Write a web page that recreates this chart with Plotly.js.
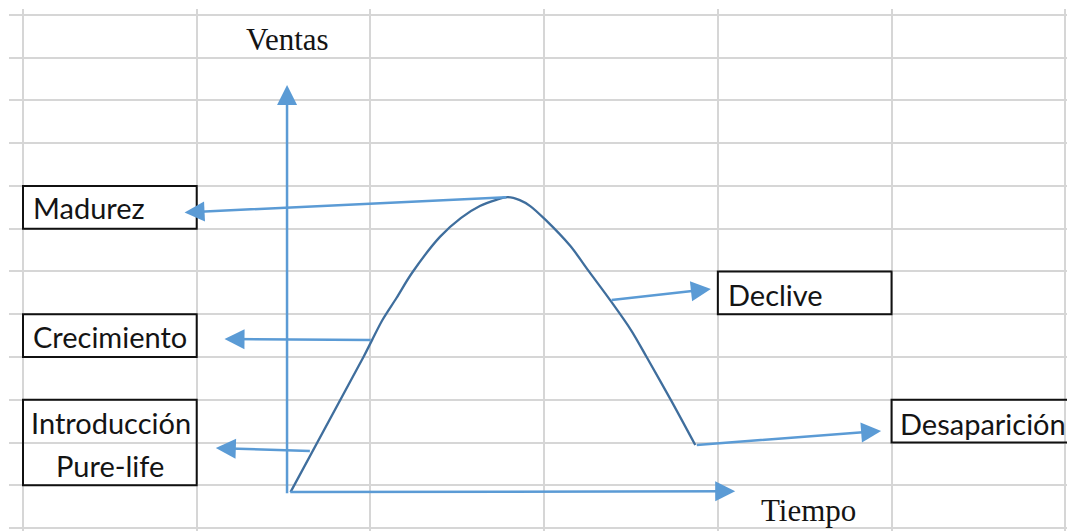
<!DOCTYPE html>
<html>
<head>
<meta charset="utf-8">
<script src="https://cdn.plot.ly/plotly-3.0.1.min.js"></script>
<style>
  html, body { margin: 0; padding: 0; background: #ffffff; }
  #chart { width: 1067px; height: 531px; }
</style>
</head>
<body>
<div id="chart"></div>
<script>
// Product life cycle curve (x = time, y = sales), in sheet-cell units
const tiempo = [1.54, 1.96, 2.01, 2.07, 2.15, 2.24, 2.40, 2.52, 2.63, 2.72, 2.79,
                2.86, 2.92, 3.01, 3.15, 3.26, 3.38, 3.50, 3.59, 3.73, 3.87];
const ventas = [0.84, 4.00, 4.40, 4.87, 5.38, 5.97, 6.81, 7.25, 7.53, 7.67, 7.74,
                7.67, 7.53, 7.20, 6.60, 5.99, 5.33, 4.63, 4.00, 2.99, 1.94];

// Stage labels and the curve point each stage arrow starts from
const etapas = ['Madurez', 'Crecimiento', 'Introducción', 'Declive', 'Desaparición'];
const subtitulo = 'Pure-life';
const origenFlecha = [10, 2, 0, 16, 20];
const ejeY = 'Ventas';
const ejeX = 'Tiempo';

const azulCurva = '#3f6e9d';
const azulFlecha = '#5b9bd5';
const labelFont = { family: 'Lato, "Open Sans", sans-serif', size: 29, color: '#141414' };
const serifFont = { family: '"Liberation Serif", "DejaVu Serif", serif', size: 31, color: '#141414' };

const curve = {
  x: tiempo, y: ventas, type: 'scatter', mode: 'lines',
  line: { color: azulCurva, width: 2.3, shape: 'spline', smoothing: 0.9 },
  hoverinfo: 'skip', showlegend: false
};

function arrow(tailX, tailY, headX, headY) {
  return {
    x: headX, y: headY, ax: tailX, ay: tailY,
    xref: 'x', yref: 'y', axref: 'x', ayref: 'y',
    text: '', showarrow: true, arrowhead: 2, arrowsize: 1.6,
    arrowwidth: 2.5, arrowcolor: azulFlecha, standoff: 0, startstandoff: 0
  };
}

// Heads of the stage arrows, next to each label box
const heads = [[0.93, 7.38], [1.16, 4.42], [1.11, 1.87], [3.96, 5.59], [4.94, 2.27]];
// Introduction arrow starts a little way up the rising edge
const introTail = [1.66, 1.80];

const annotations = [];
// Axis arrows
annotations.push(arrow(1.52, 0.78, 1.52, 10.36));
annotations.push(arrow(1.53, 0.84, 4.10, 0.86));
// Stage arrows
origenFlecha.forEach((idx, i) => {
  const tx = i === 2 ? introTail[0] : tiempo[idx];
  const ty = i === 2 ? introTail[1] : ventas[idx];
  annotations.push(arrow(tx, ty, heads[i][0], heads[i][1]));
});

// Axis names
annotations.push({ x: 1.52, y: 11.42, xref: 'x', yref: 'y', text: ejeY, showarrow: false,
                   font: serifFont, xanchor: 'center', yanchor: 'middle' });
annotations.push({ x: 4.52, y: 0.42, xref: 'x', yref: 'y', text: ejeX, showarrow: false,
                   font: serifFont, xanchor: 'center', yanchor: 'middle' });

// Stage label texts
const textPos = [
  { x: 0.045, y: 7.5, xanchor: 'left' },
  { x: 0.045, y: 4.48, xanchor: 'left' },
  { x: 0.505, y: 2.47, xanchor: 'center' },
  { x: 4.045, y: 5.47, xanchor: 'left' },
  { x: 5.035, y: 2.45, xanchor: 'left' }
];
etapas.forEach((t, i) => {
  annotations.push({ x: textPos[i].x, y: textPos[i].y, xref: 'x', yref: 'y', text: t,
                     showarrow: false, font: labelFont, xanchor: textPos[i].xanchor, yanchor: 'middle' });
});
annotations.push({ x: 0.5, y: 1.46, xref: 'x', yref: 'y', text: subtitulo, showarrow: false,
                   font: labelFont, xanchor: 'center', yanchor: 'middle' });

// Label boxes (cell ranges)
const boxCells = [[0, 1, 7, 8], [0, 1, 4, 5], [0, 1, 1, 3], [4, 5, 5, 6], [5, 6.02, 2, 3]];
const shapes = boxCells.map(b => ({
  type: 'rect', xref: 'x', yref: 'y', x0: b[0], x1: b[1], y0: b[2], y1: b[3],
  line: { color: '#111111', width: 2 }, fillcolor: 'rgba(0,0,0,0)', layer: 'above'
}));

const gridAxis = {
  showgrid: true, gridcolor: '#d6d6d6', gridwidth: 2, tick0: 0, dtick: 1,
  showticklabels: false, ticks: '', zeroline: false, showline: false, fixedrange: true
};

const layout = {
  width: 1067, height: 531, autosize: false,
  margin: { l: 9, r: 0, t: 9, b: 0, pad: 0 },
  paper_bgcolor: '#ffffff', plot_bgcolor: '#ffffff',
  xaxis: Object.assign({}, gridAxis, { range: [-0.0806, 6.010] }),
  yaxis: Object.assign({}, gridAxis, { range: [-0.0702, 12.14] }),
  annotations: annotations,
  shapes: shapes,
  showlegend: false
};

Plotly.newPlot('chart', [curve], layout, { displayModeBar: false, staticPlot: true });
</script>
</body>
</html>
